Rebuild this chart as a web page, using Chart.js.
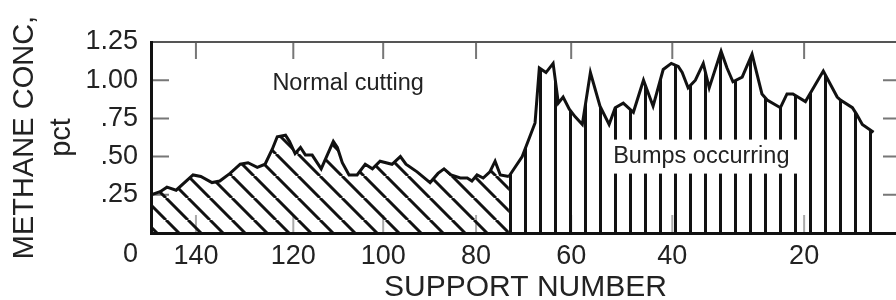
<!DOCTYPE html>
<html>
<head>
<meta charset="utf-8">
<title>Methane concentration by support number</title>
<script src="https://cdn.jsdelivr.net/npm/chart.js@4.4.1/dist/chart.umd.min.js"></script>
<style>
  html, body { margin: 0; padding: 0; background: #fff; overflow: hidden; }
  canvas { display: block; }
</style>
</head>
<body>
<canvas id="methaneChart" width="904" height="300"></canvas>
<script>
const xTickValues = [140, 120, 100, 80, 60, 40, 20];
const yTickLabels = ['0', '.25', '.50', '.75', '1.00', '1.25'];

// normal cutting
const cuttingSupport = [149.3, 147.4, 146.0, 144.1, 140.6, 139.0, 136.7, 135.1, 133.0, 130.9,
  129.3, 127.4, 125.8, 124.3, 123.3, 121.6, 120.8, 119.6, 118.4, 117.3,
  115.8, 113.8, 111.1, 110.2, 109.1, 107.6, 105.8, 104.0, 102.4, 100.7,
  98.1, 96.3, 95.1, 92.7, 89.9, 88.2, 86.9, 85.4, 83.4, 81.9,
  80.9, 79.8, 78.5, 77.1, 76.0, 74.9, 73.1];
const cuttingMethane = [0.25, 0.27, 0.30, 0.28, 0.38, 0.37, 0.33, 0.34, 0.39, 0.45,
  0.46, 0.43, 0.45, 0.55, 0.63, 0.64, 0.60, 0.52, 0.56, 0.51,
  0.51, 0.42, 0.60, 0.56, 0.46, 0.38, 0.38, 0.45, 0.42, 0.47,
  0.45, 0.50, 0.45, 0.40, 0.33, 0.39, 0.42, 0.38, 0.36, 0.36,
  0.34, 0.38, 0.36, 0.40, 0.47, 0.38, 0.37];

// bumps occurring, the vertical-hatched part
const bumpSupport = [73.1, 70.3, 67.6, 66.7, 65.3, 63.8, 62.7, 61.7, 60.4, 59.2,
  57.8, 56.2, 54.3, 52.5, 51.3, 49.7, 47.7, 45.7, 43.8, 41.8,
  40.2, 39.1, 38.5, 37.6, 36.5, 35.3, 34.4, 32.6, 31.7, 30.8,
  29.4, 27.9, 26.4, 25.6, 23.6, 22.6, 21.7, 19.8, 19.4, 17.1,
  15.0, 14.5, 12.7, 12.1, 11.2, 9.5];
const bumpMethane = [0.37, 0.50, 0.72, 1.08, 1.05, 1.11, 0.85, 0.89, 0.81, 0.76,
  0.71, 1.05, 0.83, 0.71, 0.82, 0.85, 0.79, 1.00, 0.83, 1.07,
  1.11, 1.09, 1.05, 0.95, 1.00, 1.11, 0.95, 1.19, 1.08, 0.99,
  1.02, 1.17, 0.91, 0.87, 0.82, 0.91, 0.91, 0.86, 0.89, 1.06,
  0.89, 0.87, 0.82, 0.78, 0.71, 0.66];

// the printed support axis is not evenly spaced, so map it piece by piece
const axisStops = [149.3, 140, 120, 100, 80, 60, 40, 20, 5.5];
const axisStopShare = [0, 0.060, 0.190, 0.310, 0.434, 0.561, 0.696, 0.872, 1];

class SupportScale extends Chart.LinearScale {
  static id = 'support';
  static defaults = Chart.LinearScale.defaults;

  buildTicks() {
    return xTickValues.map(value => ({ value }));
  }

  getPixelForValue(value) {
    let i = 0;
    while (i < axisStops.length - 2 && value < axisStops[i + 1]) i++;
    const t = (axisStops[i] - value) / (axisStops[i] - axisStops[i + 1]);
    return this.getPixelForDecimal(axisStopShare[i] + t * (axisStopShare[i + 1] - axisStopShare[i]));
  }

  getValueForPixel(pixel) {
    const dec = this.getDecimalForPixel(pixel);
    let i = 0;
    while (i < axisStopShare.length - 2 && dec > axisStopShare[i + 1]) i++;
    const t = (dec - axisStopShare[i]) / (axisStopShare[i + 1] - axisStopShare[i]);
    return axisStops[i] - t * (axisStops[i] - axisStops[i + 1]);
  }
}
Chart.register(SupportScale);

function hatch(kind) {
  const tile = document.createElement('canvas');
  let pattern;
  if (kind === 'diagonal') {
    const s = 22;
    tile.width = s;
    tile.height = s;
    const c = tile.getContext('2d');
    c.strokeStyle = '#111';
    c.lineWidth = 3;
    c.beginPath();
    for (const x0 of [-s, 0, s]) {
      c.moveTo(x0, 0);
      c.lineTo(x0 + s, s);
    }
    c.stroke();
    pattern = c.createPattern(tile, 'repeat');
    pattern.setTransform(new DOMMatrix().translate(12, 0));
  } else {
    tile.width = 15;
    tile.height = 4;
    const c = tile.getContext('2d');
    c.fillStyle = '#111';
    c.fillRect(0, 0, 3, 4);
    pattern = c.createPattern(tile, 'repeat');
    pattern.setTransform(new DOMMatrix().translate(14, 0));
  }
  return pattern;
}

// tick marks in the original point inwards
const innerTicks = {
  id: 'innerTicks',
  beforeDatasetsDraw(chart) {
    const { ctx, chartArea: { left, right, top, bottom }, scales: { x, y } } = chart;
    ctx.save();
    ctx.lineWidth = 2;
    ctx.strokeStyle = '#777';
    ctx.beginPath();
    xTickValues.forEach(v => {
      const px = x.getPixelForValue(v);
      ctx.moveTo(px, top);
      ctx.lineTo(px, top + 17);
    });
    y.ticks.forEach(t => {
      if (t.value === y.min || t.value === y.max) return;
      const py = y.getPixelForValue(t.value);
      ctx.moveTo(left, py);
      ctx.lineTo(left + 18, py);
      ctx.moveTo(right, py);
      ctx.lineTo(right - 17, py);
    });
    ctx.stroke();
    ctx.strokeStyle = '#aaa';
    ctx.beginPath();
    xTickValues.forEach(v => {
      const px = x.getPixelForValue(v);
      ctx.moveTo(px, bottom);
      ctx.lineTo(px, bottom - 18);
    });
    ctx.stroke();
    ctx.restore();
  }
};

const notes = {
  id: 'notes',
  afterDatasetsDraw(chart, args, opts) {
    const { ctx, scales: { x, y } } = chart;
    ctx.save();
    ctx.font = '23.5px "Liberation Sans", Arial, sans-serif';
    ctx.textAlign = 'center';
    ctx.textBaseline = 'middle';
    opts.items.forEach(n => {
      const px = x.getPixelForValue(n.x);
      const py = y.getPixelForValue(n.y);
      if (n.box) {
        const w = ctx.measureText(n.text).width + 18;
        ctx.fillStyle = '#fff';
        ctx.fillRect(px - w / 2, py - 17, w, 34);
      }
      ctx.fillStyle = '#222';
      ctx.fillText(n.text, px, py);
    });
    ctx.restore();
  }
};

Chart.defaults.font.family = '"Liberation Sans", Arial, sans-serif';
Chart.defaults.color = '#222';

new Chart(document.getElementById('methaneChart'), {
  type: 'line',
  data: {
    datasets: [
      {
        label: 'Normal cutting',
        data: cuttingSupport.map((x, i) => ({ x, y: cuttingMethane[i] })),
        fill: 'origin',
        backgroundColor: hatch('diagonal'),
        borderColor: '#111',
        borderWidth: 3,
        pointRadius: 0,
        tension: 0,
      },
      {
        label: 'Bumps occurring',
        data: bumpSupport.map((x, i) => ({ x, y: bumpMethane[i] })),
        fill: 'origin',
        backgroundColor: hatch('vertical'),
        borderColor: '#111',
        borderWidth: 3,
        pointRadius: 0,
        tension: 0,
      },
    ],
  },
  options: {
    responsive: false,
    animation: false,
    events: [],
    layout: { padding: { top: 42, right: 4, left: 0, bottom: 0 } },
    plugins: {
      legend: { display: false },
      tooltip: { enabled: false },
      notes: {
        items: [
          { text: 'Normal cutting', x: 107.8, y: 0.98 },
          { text: 'Bumps occurring', x: 35.6, y: 0.50, box: true },
        ],
      },
    },
    scales: {
      x: {
        type: 'support',
        min: 5.5,
        max: 149.3,
        afterFit: s => { s.height = 67; },
        grid: { display: false, drawTicks: false },
        border: { display: true, color: '#111', width: 3, z: 1 },
        ticks: { padding: 7, maxRotation: 0, autoSkip: false, font: { size: 27 } },
        title: { display: true, text: 'SUPPORT NUMBER', font: { size: 30, lineHeight: 0.85 }, padding: 0 },
      },
      x2: {
        type: 'support',
        position: 'top',
        min: 5.5,
        max: 149.3,
        grid: { display: false, drawTicks: false },
        ticks: { display: false },
        border: { display: true, color: '#555', width: 2, z: 1 },
      },
      y: {
        min: 0,
        max: 1.25,
        afterFit: s => { s.width = 151; },
        grid: { display: false, drawTicks: false },
        border: { display: true, color: '#111', width: 3, z: 1 },
        ticks: {
          stepSize: 0.25,
          padding: 13,
          autoSkip: false,
          font: { size: 27, lineHeight: 1.6 },
          callback: (v, i) => (i === 0 ? ['', yTickLabels[0]] : yTickLabels[i]),
        },
        title: {
          display: true,
          text: ['METHANE CONC,', 'pct'],
          font: { size: 29, lineHeight: 1.27 },
          padding: { top: 7, bottom: 0 },
        },
      },
    },
  },
  plugins: [innerTicks, notes],
});
</script>
</body>
</html>
